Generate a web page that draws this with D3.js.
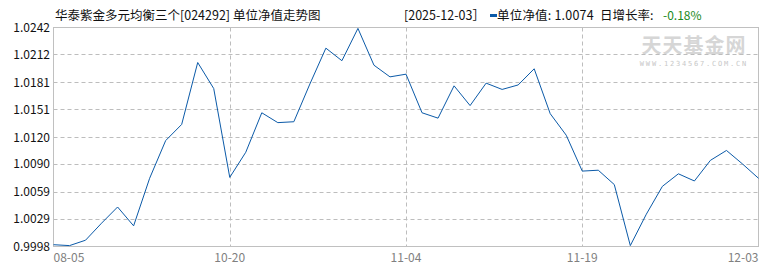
<!DOCTYPE html>
<html><head><meta charset="utf-8">
<script src="https://cdn.jsdelivr.net/npm/d3@7/dist/d3.min.js"></script>
<style>
body{margin:0;background:#fff;}
svg text{font-family:"Noto Sans CJK SC","DejaVu Sans",sans-serif;}
</style></head>
<body><svg id="c" width="770" height="270"></svg>
<script>
const title = "华泰紫金多元均衡三个[024292] 单位净值走势图";
const lastDate = "[2025-12-03］";
const navLabel = "单位净值: 1.0074";
const chgLabel = "日增长率:";
const chgValue = "-0.18%";
const values = [1.0000,0.9999,1.0005,1.0024,1.0042,1.0021,1.0074,1.0116,1.0134,1.0203,1.0174,1.0075,
  1.0103,1.0147,1.0136,1.0137,1.0179,1.0219,1.0205,1.0241,1.0200,1.0187,1.0190,
  1.0147,1.0141,1.0177,1.0155,1.0180,1.0173,1.0178,1.0196,1.0146,1.0122,1.0082,
  1.0083,1.0067,0.9999,1.0034,1.0065,1.0079,1.0071,1.0094,1.0105,1.0090,1.0074];
const xTickIdx = [0,11,22,33,44];
const xTickLabels = ["08-05","10-20","11-04","11-19","12-03"];
const yTicks = [0.9998,1.0029,1.0059,1.0090,1.0120,1.0151,1.0181,1.0212,1.0242];

const svg = d3.select("#c");
const L=53.5, R=758.5, T=27.5, B=246.5;
const x = d3.scaleLinear().domain([0, values.length-1]).range([L,R]);
const y = d3.scaleLinear().domain([0.9998,1.0242]).range([B,T]);
const grid="#bdbdbd";

// watermark
svg.append("text").attr("x",694).attr("y",53).attr("text-anchor","middle")
  .attr("font-size",20).attr("font-weight","bold").attr("fill","#d6d6d6").attr("letter-spacing",1).text("天天基金网");
svg.append("text").attr("x",694).attr("y",66).attr("text-anchor","middle")
  .attr("font-size",7).attr("fill","#c8c8c8").attr("letter-spacing",1.8).style("font-family","DejaVu Sans Mono").text("WWW.1234567.COM.CN");

// horizontal grid
svg.append("g").selectAll("line").data(yTicks.slice(1,-1)).join("line")
  .attr("x1",L).attr("x2",R).attr("y1",d=>Math.round(y(d))+0.5).attr("y2",d=>Math.round(y(d))+0.5)
  .attr("stroke",grid).attr("stroke-dasharray","4,3");
// vertical grid
svg.append("g").selectAll("line").data(xTickIdx.slice(1,-1)).join("line")
  .attr("y1",T).attr("y2",B).attr("x1",d=>Math.round(x(d))+0.5).attr("x2",d=>Math.round(x(d))+0.5)
  .attr("stroke",grid).attr("stroke-dasharray","4,3");
// frame
svg.append("rect").attr("x",L).attr("y",T).attr("width",R-L).attr("height",B-T)
  .attr("fill","none").attr("stroke","#c0c0c0");

// y labels
svg.append("g").selectAll("text").data(yTicks).join("text")
  .attr("x",50).attr("y",d=>y(d)+4.5).attr("text-anchor","end").attr("font-size",12).attr("fill","#111")
  .text(d=>d.toFixed(4));
// x labels
svg.append("g").selectAll("text").data(xTickIdx).join("text")
  .attr("x",d=>x(d)).attr("y",262).attr("font-size",12).attr("fill","#808080")
  .attr("text-anchor",(d,i)=>i===0?"start":(i===xTickIdx.length-1?"end":"middle"))
  .text((d,i)=>xTickLabels[i]);

// line
svg.append("path").datum(values)
  .attr("d",d3.line().x((d,i)=>x(i)).y(d=>y(d)))
  .attr("fill","none").attr("stroke","#0b5aa8").attr("stroke-width",1);

// header
svg.append("text").attr("x",55).attr("y",20).attr("font-size",12.5).attr("fill","#111").text(title);
svg.append("text").attr("x",404).attr("y",20).attr("font-size",12.5).attr("fill","#111").text(lastDate);
svg.append("rect").attr("x",490).attr("y",14).attr("width",7).attr("height",3).attr("fill","#0b5aa8");
svg.append("text").attr("x",497).attr("y",20).attr("font-size",12.5).attr("fill","#111").attr("letter-spacing",0.2).text(navLabel);
svg.append("text").attr("x",600).attr("y",20).attr("font-size",12.5).attr("fill","#111").text(chgLabel);
svg.append("text").attr("x",663).attr("y",20).attr("font-size",12).attr("fill","#1a8a1a").text(chgValue);
</script></body></html>
